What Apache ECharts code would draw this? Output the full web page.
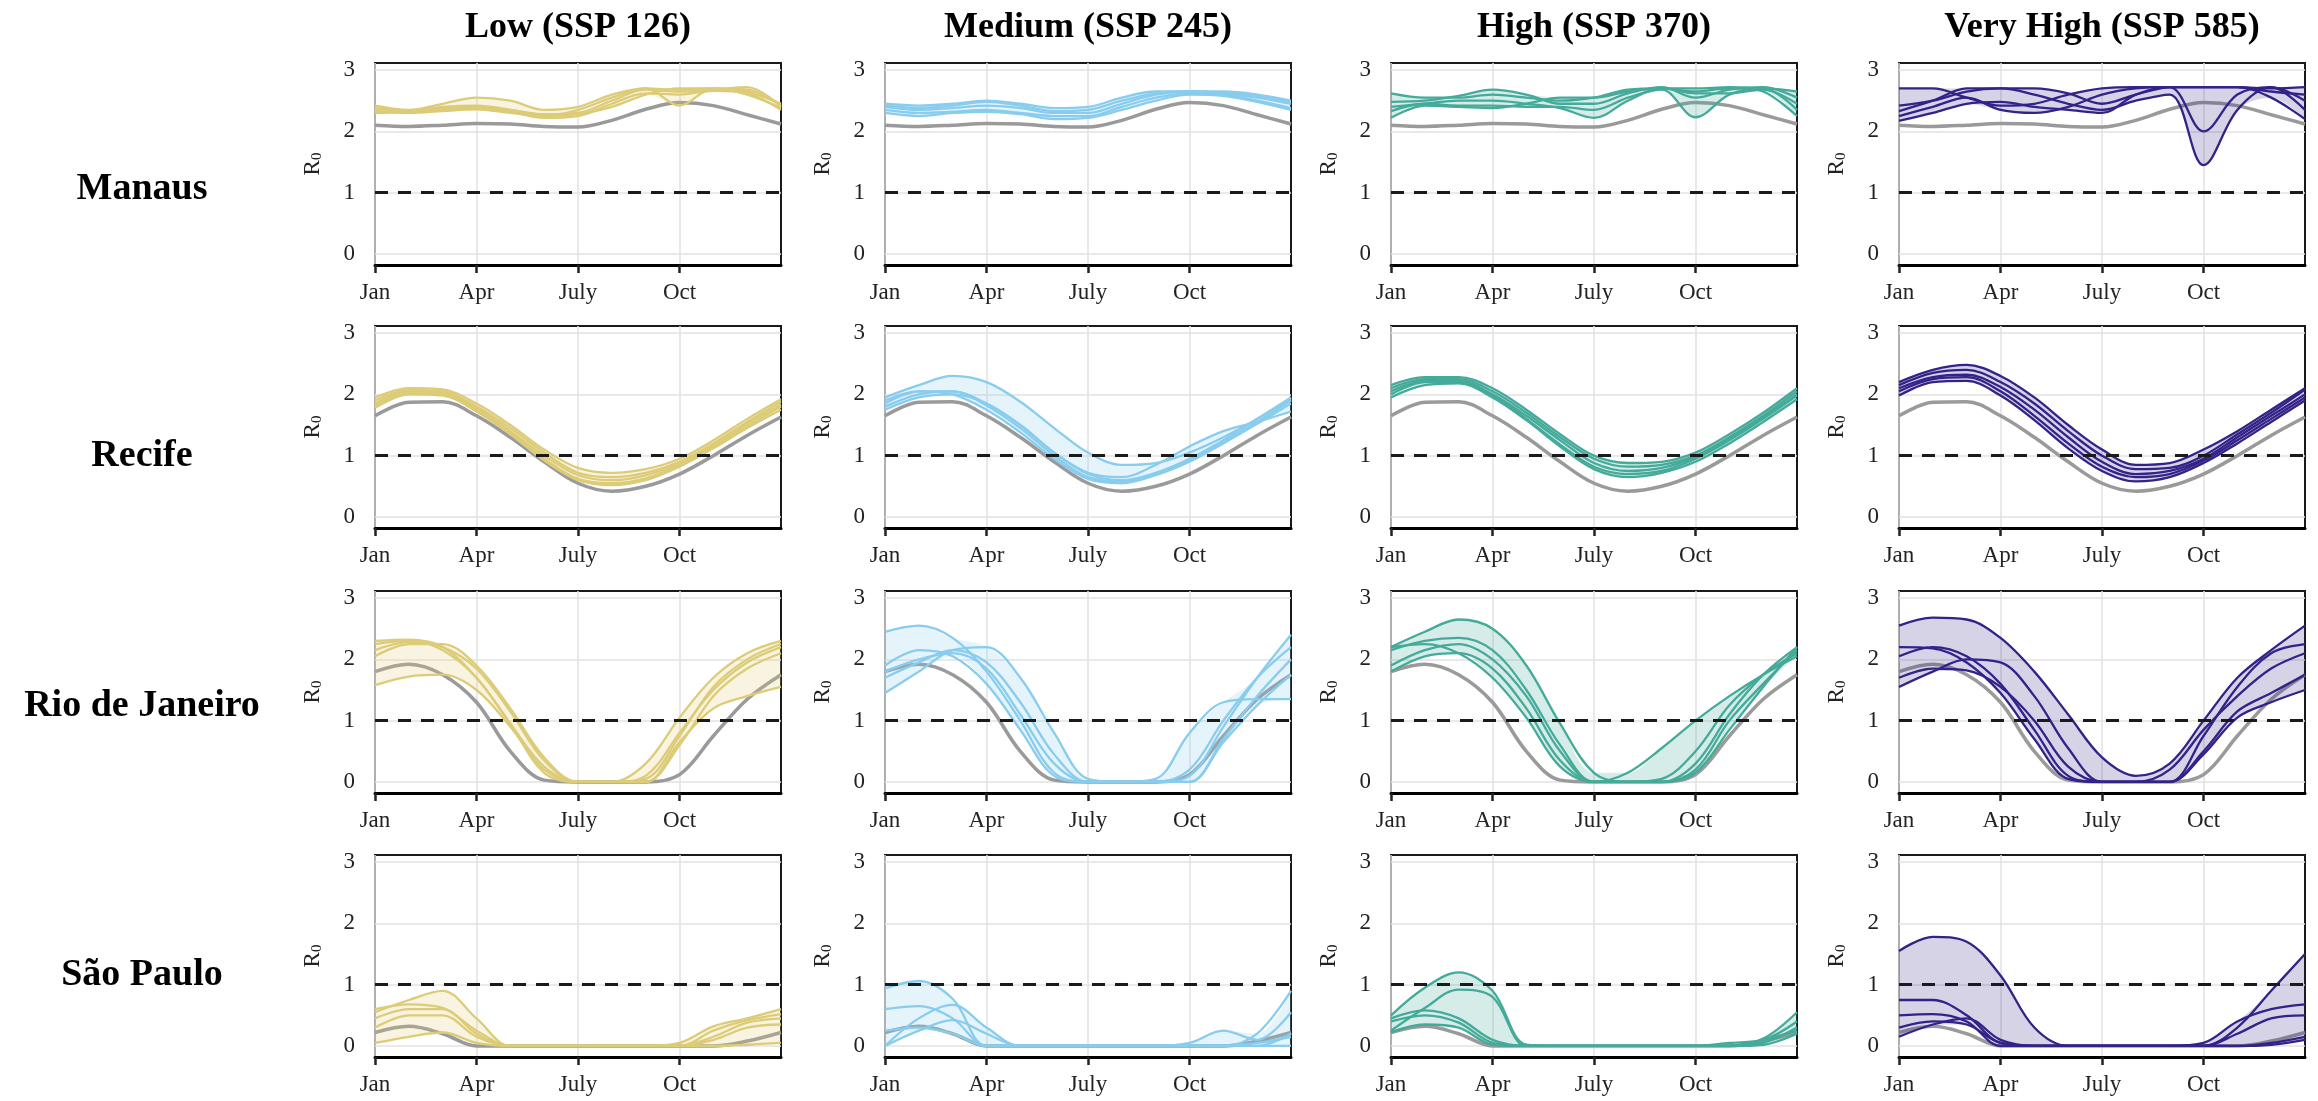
<!DOCTYPE html>
<html>
<head>
<meta charset="utf-8">
<title>R0 by city and scenario</title>
<script src="https://cdn.jsdelivr.net/npm/echarts@6/dist/echarts.min.js"></script>
<style>
  html, body { margin: 0; padding: 0; background: #fff; }
  #chart { width: 2318px; height: 1101px; }
</style>
</head>
<body>
<div id="chart"></div>
<script>
// column / row headings
var scenarios = ['Low (SSP 126)', 'Medium (SSP 245)', 'High (SSP 370)', 'Very High (SSP 585)'];
var cities = ['Manaus', 'Recife', 'Rio de Janeiro', 'São Paulo'];

// x is month boundary (0 = 1 Jan ... 12 = 31 Dec)
var monthIdx = ['0', '1', '2', '3', '4', '5', '6', '7', '8', '9', '10', '11', '12'];
var tickNames = { 0: 'Jan', 3: 'Apr', 6: 'July', 9: 'Oct' };
var yTicks = [0, 1, 2, 3];

// historical R0 (grey line)
var baseManaus   = [2.10, 2.08, 2.10, 2.13, 2.12, 2.08, 2.07, 2.18, 2.36, 2.47, 2.42, 2.27, 2.12];
var baseRecife   = [1.65, 1.87, 1.88, 1.65, 1.30, 0.90, 0.55, 0.42, 0.50, 0.70, 1.00, 1.33, 1.63];
var baseRio      = [1.80, 1.92, 1.75, 1.30, 0.50, 0.03, 0, 0, 0, 0.12, 0.75, 1.35, 1.75];
var baseSaoPaulo = [0.22, 0.32, 0.20, 0, 0, 0, 0, 0, 0, 0, 0, 0.08, 0.22];

// climate model projections, 5 models per panel
var manausLow = [
  [2.42, 2.35, 2.45, 2.55, 2.50, 2.35, 2.40, 2.60, 2.70, 2.68, 2.70, 2.65, 2.45],
  [2.35, 2.33, 2.38, 2.40, 2.35, 2.28, 2.30, 2.50, 2.68, 2.65, 2.68, 2.72, 2.40],
  [2.30, 2.32, 2.35, 2.38, 2.32, 2.22, 2.25, 2.45, 2.62, 2.60, 2.66, 2.62, 2.35],
  [2.38, 2.34, 2.40, 2.42, 2.35, 2.25, 2.35, 2.55, 2.70, 2.42, 2.70, 2.68, 2.42],
  [2.33, 2.30, 2.33, 2.36, 2.30, 2.25, 2.28, 2.40, 2.60, 2.70, 2.70, 2.60, 2.38]
];
var manausMedium = [
  [2.45, 2.42, 2.45, 2.50, 2.45, 2.38, 2.40, 2.55, 2.65, 2.65, 2.65, 2.60, 2.50],
  [2.40, 2.35, 2.38, 2.42, 2.38, 2.30, 2.30, 2.45, 2.60, 2.65, 2.62, 2.55, 2.45],
  [2.35, 2.30, 2.32, 2.35, 2.30, 2.25, 2.25, 2.40, 2.55, 2.62, 2.60, 2.50, 2.38],
  [2.30, 2.25, 2.30, 2.32, 2.28, 2.20, 2.22, 2.35, 2.50, 2.60, 2.58, 2.48, 2.35],
  [2.42, 2.38, 2.42, 2.48, 2.42, 2.33, 2.35, 2.50, 2.62, 2.65, 2.63, 2.58, 2.48]
];
var manausHigh = [
  [2.62, 2.55, 2.55, 2.60, 2.55, 2.50, 2.55, 2.68, 2.70, 2.65, 2.70, 2.70, 2.65],
  [2.48, 2.50, 2.58, 2.68, 2.60, 2.45, 2.45, 2.62, 2.72, 2.55, 2.68, 2.72, 2.55],
  [2.40, 2.45, 2.50, 2.50, 2.45, 2.38, 2.22, 2.50, 2.70, 2.62, 2.62, 2.68, 2.45],
  [2.33, 2.45, 2.42, 2.42, 2.40, 2.40, 2.35, 2.55, 2.68, 2.23, 2.60, 2.70, 2.35],
  [2.22, 2.42, 2.40, 2.38, 2.45, 2.55, 2.55, 2.65, 2.70, 2.70, 2.72, 2.65, 2.25]
];
var manausVeryHigh = [
  [2.70, 2.70, 2.55, 2.42, 2.45, 2.60, 2.70, 2.72, 2.72, 2.72, 2.72, 2.70, 2.72],
  [2.42, 2.50, 2.65, 2.70, 2.70, 2.62, 2.45, 2.60, 2.72, 2.00, 2.60, 2.72, 2.50],
  [2.33, 2.50, 2.70, 2.70, 2.60, 2.45, 2.35, 2.50, 2.60, 1.45, 2.35, 2.72, 2.35],
  [2.17, 2.30, 2.45, 2.48, 2.40, 2.35, 2.30, 2.60, 2.72, 2.72, 2.72, 2.55, 2.20],
  [2.25, 2.40, 2.55, 2.35, 2.30, 2.40, 2.60, 2.70, 2.72, 2.72, 2.72, 2.65, 2.60]
];

var recifeLow = [
  [1.95, 2.10, 2.08, 1.85, 1.50, 1.10, 0.80, 0.72, 0.78, 0.95, 1.25, 1.60, 1.92],
  [1.90, 2.07, 2.05, 1.80, 1.45, 1.05, 0.72, 0.65, 0.72, 0.90, 1.20, 1.55, 1.88],
  [1.85, 2.05, 2.02, 1.78, 1.40, 1.00, 0.68, 0.60, 0.68, 0.88, 1.18, 1.52, 1.83],
  [1.82, 2.02, 2.00, 1.75, 1.38, 0.95, 0.62, 0.55, 0.63, 0.85, 1.15, 1.48, 1.80],
  [1.78, 2.00, 1.98, 1.72, 1.35, 0.92, 0.60, 0.52, 0.60, 0.82, 1.12, 1.45, 1.75]
];
var recifeMedium = [
  [1.95, 2.15, 2.30, 2.20, 1.88, 1.45, 1.05, 0.85, 0.88, 1.05, 1.30, 1.60, 1.92],
  [1.80, 2.00, 2.05, 1.85, 1.50, 1.05, 0.70, 0.60, 0.72, 0.95, 1.25, 1.60, 1.95],
  [1.85, 2.05, 2.05, 1.82, 1.45, 1.00, 0.65, 0.58, 0.70, 0.92, 1.22, 1.55, 1.90],
  [1.90, 2.05, 2.00, 1.75, 1.38, 0.95, 0.62, 0.55, 0.68, 0.90, 1.20, 1.52, 1.85],
  [1.75, 1.95, 2.00, 1.85, 1.50, 1.05, 0.72, 0.65, 0.85, 1.15, 1.40, 1.55, 1.72]
];
var recifeHigh = [
  [2.15, 2.28, 2.28, 2.10, 1.75, 1.35, 1.00, 0.88, 0.90, 1.05, 1.35, 1.70, 2.10],
  [2.10, 2.25, 2.25, 2.05, 1.70, 1.30, 0.95, 0.82, 0.85, 1.00, 1.30, 1.65, 2.05],
  [2.05, 2.22, 2.22, 2.00, 1.65, 1.25, 0.88, 0.75, 0.80, 0.98, 1.28, 1.62, 2.00],
  [2.00, 2.20, 2.20, 1.98, 1.60, 1.18, 0.82, 0.70, 0.75, 0.95, 1.25, 1.60, 1.98],
  [1.95, 2.15, 2.18, 1.95, 1.58, 1.15, 0.78, 0.65, 0.72, 0.90, 1.20, 1.55, 1.92]
];
var recifeVeryHigh = [
  [2.20, 2.40, 2.48, 2.30, 1.95, 1.50, 1.10, 0.85, 0.88, 1.10, 1.40, 1.75, 2.10],
  [2.15, 2.35, 2.40, 2.20, 1.85, 1.40, 1.00, 0.78, 0.80, 1.00, 1.35, 1.70, 2.08],
  [2.10, 2.28, 2.32, 2.12, 1.75, 1.30, 0.90, 0.70, 0.75, 0.95, 1.30, 1.65, 2.00],
  [2.05, 2.25, 2.28, 2.05, 1.65, 1.20, 0.82, 0.65, 0.70, 0.92, 1.25, 1.60, 1.95],
  [1.98, 2.20, 2.22, 1.98, 1.58, 1.12, 0.75, 0.58, 0.65, 0.88, 1.20, 1.55, 1.90]
];

var rioLow = [
  [2.25, 2.30, 2.15, 1.70, 0.95, 0.25, 0, 0, 0.30, 1.05, 1.70, 2.10, 2.30],
  [2.15, 2.28, 2.20, 1.85, 1.15, 0.35, 0, 0, 0.10, 0.80, 1.50, 1.95, 2.20],
  [2.05, 2.25, 2.25, 1.90, 1.20, 0.40, 0, 0, 0, 0.60, 1.40, 1.85, 2.10],
  [1.58, 1.72, 1.75, 1.50, 0.90, 0.20, 0, 0, 0, 0.65, 1.20, 1.40, 1.55],
  [2.30, 2.32, 2.20, 1.70, 0.95, 0.15, 0, 0, 0.05, 0.75, 1.55, 2.00, 2.25]
];
var rioMedium = [
  [2.45, 2.55, 2.35, 1.80, 1.00, 0.15, 0, 0, 0, 0.10, 0.90, 1.70, 2.40],
  [1.90, 2.15, 2.05, 1.60, 0.85, 0.10, 0, 0, 0, 0, 0.70, 1.40, 2.00],
  [1.45, 1.80, 2.15, 2.20, 1.70, 0.80, 0.05, 0, 0, 0, 0.65, 1.25, 1.75],
  [1.70, 1.95, 2.15, 1.95, 1.30, 0.45, 0, 0, 0.05, 0.80, 1.30, 1.35, 1.35],
  [1.80, 2.00, 2.10, 1.85, 1.10, 0.30, 0, 0, 0, 0.20, 1.00, 1.70, 2.20]
];
var rioHigh = [
  [2.20, 2.45, 2.65, 2.50, 1.90, 0.95, 0.15, 0, 0, 0.20, 1.00, 1.60, 2.15],
  [2.15, 2.30, 2.35, 2.15, 1.50, 0.60, 0, 0, 0, 0.30, 1.10, 1.75, 2.20],
  [1.90, 2.15, 2.25, 2.00, 1.40, 0.50, 0, 0, 0.05, 0.50, 1.25, 1.75, 2.10],
  [2.20, 2.25, 2.10, 1.70, 1.05, 0.25, 0, 0.15, 0.55, 1.00, 1.40, 1.75, 2.05],
  [1.80, 2.05, 2.10, 1.85, 1.20, 0.35, 0, 0, 0, 0.15, 0.85, 1.55, 2.20]
];
var rioVeryHigh = [
  [2.55, 2.68, 2.65, 2.35, 1.80, 1.10, 0.40, 0.10, 0.30, 1.00, 1.70, 2.15, 2.55],
  [2.20, 2.18, 1.95, 1.45, 0.70, 0.05, 0, 0, 0, 0.75, 1.55, 2.10, 2.25],
  [1.55, 1.80, 2.00, 1.95, 1.40, 0.55, 0, 0, 0.20, 0.85, 1.40, 1.85, 2.10],
  [1.70, 1.85, 1.82, 1.55, 1.00, 0.25, 0, 0, 0, 0.50, 1.15, 1.45, 1.75],
  [2.05, 2.20, 2.05, 1.60, 0.85, 0.10, 0, 0, 0, 0.45, 1.05, 1.30, 1.50]
];

var saoPauloLow = [
  [0.55, 0.75, 0.90, 0.45, 0, 0, 0, 0, 0, 0.05, 0.32, 0.45, 0.60],
  [0.60, 0.68, 0.62, 0.25, 0, 0, 0, 0, 0, 0, 0.25, 0.42, 0.52],
  [0.45, 0.60, 0.60, 0.20, 0, 0, 0, 0, 0, 0, 0.15, 0.38, 0.45],
  [0.30, 0.50, 0.50, 0.15, 0, 0, 0, 0, 0, 0, 0.10, 0.30, 0.35],
  [0.05, 0.15, 0.22, 0.05, 0, 0, 0, 0, 0, 0, 0, 0.02, 0.05]
];
var saoPauloMedium = [
  [0.94, 1.06, 0.77, 0, 0, 0, 0, 0, 0, 0, 0, 0.20, 0.90],
  [0.60, 0.65, 0.45, 0, 0, 0, 0, 0, 0, 0.05, 0.25, 0.10, 0.55],
  [0, 0.45, 0.67, 0.30, 0, 0, 0, 0, 0, 0, 0, 0, 0.20],
  [0, 0.25, 0.42, 0.20, 0, 0, 0, 0, 0, 0, 0, 0, 0],
  [0.25, 0.30, 0.20, 0, 0, 0, 0, 0, 0, 0, 0, 0.05, 0.15]
];
var saoPauloHigh = [
  [0.50, 0.95, 1.20, 0.90, 0.02, 0, 0, 0, 0, 0, 0, 0.12, 0.55],
  [0.25, 0.62, 0.92, 0.80, 0, 0, 0, 0, 0, 0, 0.05, 0.10, 0.40],
  [0.45, 0.58, 0.45, 0.10, 0, 0, 0, 0, 0, 0, 0, 0.05, 0.30],
  [0.40, 0.50, 0.38, 0.05, 0, 0, 0, 0, 0, 0, 0, 0.10, 0.25],
  [0.22, 0.35, 0.30, 0.02, 0, 0, 0, 0, 0, 0, 0, 0.02, 0.20]
];
var saoPauloVeryHigh = [
  [1.55, 1.78, 1.70, 1.15, 0.30, 0, 0, 0, 0, 0, 0.30, 0.90, 1.50],
  [0.75, 0.75, 0.50, 0.05, 0, 0, 0, 0, 0, 0.05, 0.40, 0.60, 0.68],
  [0.50, 0.52, 0.40, 0, 0, 0, 0, 0, 0, 0, 0.20, 0.45, 0.50],
  [0.15, 0.35, 0.45, 0.10, 0, 0, 0, 0, 0, 0, 0, 0.05, 0.15],
  [0.30, 0.40, 0.35, 0.05, 0, 0, 0, 0, 0, 0, 0, 0.02, 0.10]
];

var baselines = [baseManaus, baseRecife, baseRio, baseSaoPaulo];
var models = [
  [manausLow, manausMedium, manausHigh, manausVeryHigh],
  [recifeLow, recifeMedium, recifeHigh, recifeVeryHigh],
  [rioLow, rioMedium, rioHigh, rioVeryHigh],
  [saoPauloLow, saoPauloMedium, saoPauloHigh, saoPauloVeryHigh]
];

var lineColors = ['#DDCC77', '#88CCEE', '#44AA99', '#332288'];
var bandColors = ['rgba(221,204,119,0.22)', 'rgba(136,204,238,0.22)', 'rgba(68,170,153,0.22)', 'rgba(51,34,136,0.2)'];

var serif = '"Liberation Serif", "Times New Roman", serif';
var colLeft = [375, 885, 1391, 1899];
var rowTop = [63, 326, 591, 855];
var rowLabelY = [189, 456, 706, 975];

var myChart = echarts.init(document.getElementById('chart'));

var grids = [], xAxes = [], yAxes = [], series = [], graphics = [];

// a tick / label / grid line every 3 months, none at Dec 31
function quarterly(index) { return index % 3 === 0 && index < 12; }

for (var r = 0; r < 4; r++) {
  for (var c = 0; c < 4; c++) {
    var k = grids.length;
    grids.push({
      left: colLeft[c], top: rowTop[r], width: 406, height: 202,
      show: true, borderColor: '#1a1a1a', borderWidth: 2, backgroundColor: '#fff'
    });
    xAxes.push({
      gridIndex: k, type: 'category', data: monthIdx, boundaryGap: false,
      axisLine: { onZero: false, lineStyle: { color: '#000', width: 3 } },
      axisTick: { interval: quarterly, length: 8, lineStyle: { color: '#222', width: 2.5 } },
      axisLabel: {
        interval: quarterly, margin: 16, color: '#222', fontFamily: serif, fontSize: 23,
        formatter: function (v) { return tickNames[v] || ''; }
      },
      splitLine: { show: true, interval: quarterly, lineStyle: { color: '#e2e2e2', width: 1.5 } }
    });
    yAxes.push({
      gridIndex: k, type: 'value', min: -0.18, max: 3.115,
      name: '{r|R}{s|0}', nameLocation: 'middle', nameRotate: 90, nameGap: 50,
      nameTextStyle: {
        rich: {
          r: { fontFamily: serif, fontSize: 23, color: '#222' },
          s: { fontFamily: serif, fontSize: 15, color: '#222', padding: [9, 0, 0, 0] }
        }
      },
      axisLine: { onZero: false, lineStyle: { color: '#000', width: 3 } },
      axisTick: { customValues: yTicks, length: 8, lineStyle: { color: '#222', width: 2.5 } },
      axisLabel: { customValues: yTicks, margin: 20, color: '#222', fontFamily: serif, fontSize: 23 },
      splitLine: { show: true, lineStyle: { color: '#e2e2e2', width: 1.5 } }
    });

    // historical grey curve
    series.push({
      type: 'line', xAxisIndex: k, yAxisIndex: k, data: baselines[r],
      smooth: 0.35, symbol: 'none', lineStyle: { color: '#9a9a9a', width: 3.5 }, z: 2
    });

    // min-max band of the models
    var set = models[r][c];
    var lo = [], span = [];
    for (var i = 0; i < monthIdx.length; i++) {
      var col = set.map(function (m) { return m[i]; });
      var mn = Math.min.apply(null, col), mx = Math.max.apply(null, col);
      lo.push(mn);
      span.push(+(mx - mn).toFixed(3));
    }
    series.push({
      type: 'line', xAxisIndex: k, yAxisIndex: k, data: lo, stack: 'band' + k,
      smooth: 0.35, symbol: 'none', lineStyle: { opacity: 0 }, z: 3
    });
    series.push({
      type: 'line', xAxisIndex: k, yAxisIndex: k, data: span, stack: 'band' + k,
      smooth: 0.35, symbol: 'none', lineStyle: { opacity: 0 },
      areaStyle: { color: bandColors[c], opacity: 1 }, z: 3
    });

    set.forEach(function (m) {
      series.push({
        type: 'line', xAxisIndex: k, yAxisIndex: k, data: m,
        smooth: 0.35, symbol: 'none', lineStyle: { color: lineColors[c], width: 2.3 }, z: 4
      });
    });

    // R0 = 1 threshold
    series.push({
      type: 'line', xAxisIndex: k, yAxisIndex: k, data: [], z: 6,
      markLine: {
        silent: true, symbol: ['none', 'none'], label: { show: false },
        lineStyle: { color: '#1a1a1a', width: 2.8, type: [13, 10] },
        data: [{ yAxis: 1 }]
      }
    });
  }
}

scenarios.forEach(function (s, c) {
  graphics.push({
    type: 'text', x: colLeft[c] + 203, y: 28,
    style: { text: s, font: 'bold 36px ' + serif, fill: '#000', textAlign: 'center', textVerticalAlign: 'middle' }
  });
});
cities.forEach(function (s, r) {
  graphics.push({
    type: 'text', x: 142, y: rowLabelY[r],
    style: { text: s, font: 'bold 38px ' + serif, fill: '#000', textAlign: 'center', textVerticalAlign: 'middle' }
  });
});

var option = {
  animation: false,
  backgroundColor: '#fff',
  grid: grids,
  xAxis: xAxes,
  yAxis: yAxes,
  series: series,
  graphic: graphics
};

myChart.setOption(option);
window.addEventListener('resize', function () { myChart.resize(); });
</script>
</body>
</html>
